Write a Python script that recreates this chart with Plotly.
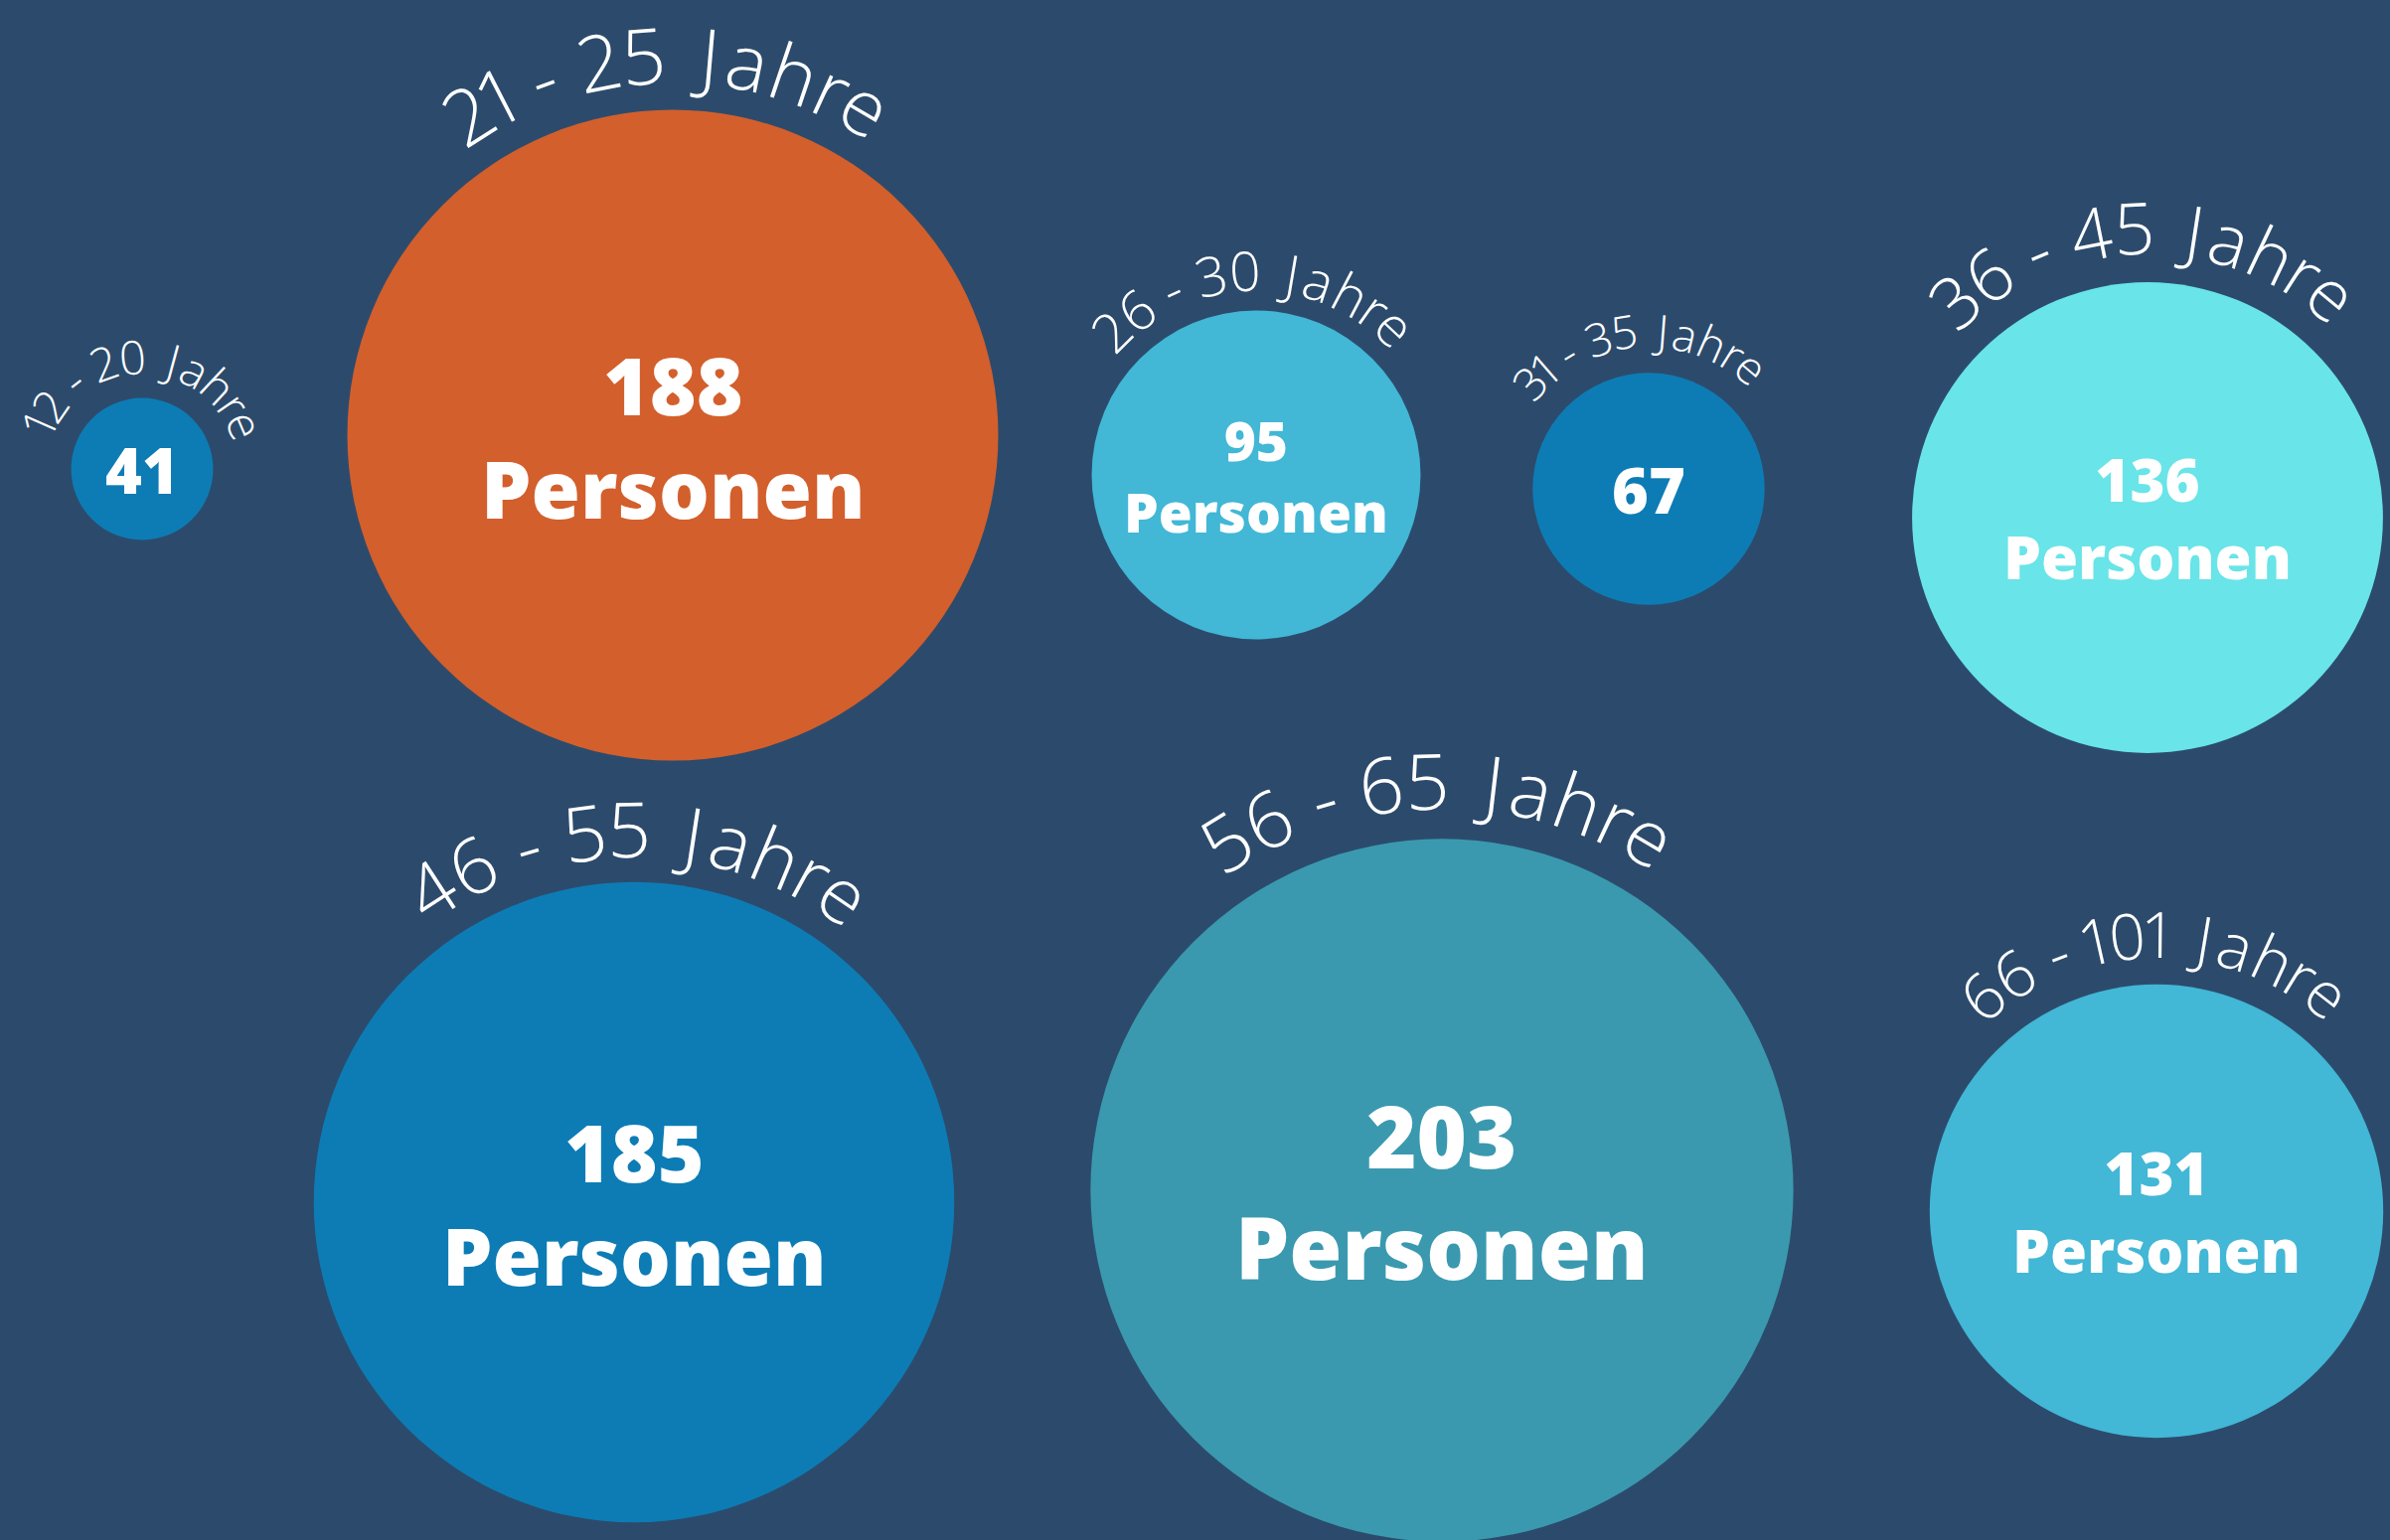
import math
import plotly.graph_objects as go

# ---- data ----
age_groups = ["12 - 20 Jahre", "21 - 25 Jahre", "26 - 30 Jahre", "31 - 35 Jahre",
              "36 - 45 Jahre", "46 - 55 Jahre", "56 - 65 Jahre", "66 - 101 Jahre"]
persons = [41, 188, 95, 67, 136, 185, 203, 131]
unit_label = "Personen"

# ---- layout / style ----
W, H = 2405, 1550
BG = "#2C4B6C"
bubble_x = [143, 677, 1264, 1659, 2161, 638, 1451, 2170]
bubble_y = [472, 438, 478, 492, 521, 1210, 1198, 1219]
bubble_colors = ["#0D7CB5", "#D35F2C", "#42B7D6", "#0D7CB5",
                 "#69E4E8", "#0D7CB5", "#3A99AF", "#42B7D6"]
PX_PER_PERSON = 1.742          # bubble radius in px per person
value_font = [63, 80, 55, 63, 60, 80, 86, 60]
show_unit = [False, True, True, False, True, True, True, True]
label_font = [47, 78, 55, 46, 72, 77, 78, 64]
label_gap = [42, 57, 41, 44, 56, 54, 60, 51]
label_rot = [2, -1, -1, -4, -1, 0.5, -0.6, -0.5]

CHAR_W = {"0": .67, "1": .33, "2": .58, "3": .58, "4": .65, "5": .59, "6": .62,
          " ": .26, "-": .40, "J": .50, "a": .60, "h": .66, "r": .38, "e": .60}

LABEL_FONT = "Open Sans"
VALUE_FONT = "Open Sans"

fig = go.Figure()
fig.add_trace(go.Scatter(
    x=bubble_x, y=bubble_y, mode="markers",
    marker=dict(size=persons, sizemode="diameter", sizeref=1 / (2 * PX_PER_PERSON),
                color=bubble_colors, opacity=1, line=dict(width=0)),
    hoverinfo="skip", cliponaxis=False, showlegend=False))

annotations = []
for i, txt in enumerate(age_groups):
    cx, cy = bubble_x[i], bubble_y[i]
    r = persons[i] * PX_PER_PERSON
    F = label_font[i]
    R = r + label_gap[i]
    ws = [CHAR_W.get(c, 0.55) for c in txt]
    total = sum(ws)
    acc = 0.0
    for c, w in zip(txt, ws):
        pos = acc + w / 2
        acc += w
        if c == " ":
            continue
        s = (pos - total / 2) * F
        th = label_rot[i] + math.degrees(s / R)
        t = math.radians(th)
        annotations.append(dict(
            x=cx + R * math.sin(t), y=cy - R * math.cos(t), xref="x", yref="y",
            text=c, showarrow=False, textangle=th, xanchor="center", yanchor="middle",
            borderpad=0,
            font=dict(family=LABEL_FONT, size=F, color="white", weight=300)))

    vf = value_font[i]
    text = f"{persons[i]}<br>{unit_label}" if show_unit[i] else str(persons[i])
    annotations.append(dict(
        x=cx, y=cy, xref="x", yref="y", text=text, showarrow=False,
        xanchor="center", yanchor="middle", align="center", borderpad=0,
        font=dict(family=VALUE_FONT, size=vf, color="white", weight=800)))

fig.update_layout(
    width=W, height=H, margin=dict(l=0, r=0, t=0, b=0),
    paper_bgcolor=BG, plot_bgcolor=BG,
    xaxis=dict(range=[0, W], visible=False, fixedrange=True),
    yaxis=dict(range=[H, 0], visible=False, fixedrange=True),
    annotations=annotations, showlegend=False)

fig.write_html("out.html", config={"displayModeBar": False, "staticPlot": True},
               post_script="document.body.style.margin='0';document.body.style.overflow='hidden';")
